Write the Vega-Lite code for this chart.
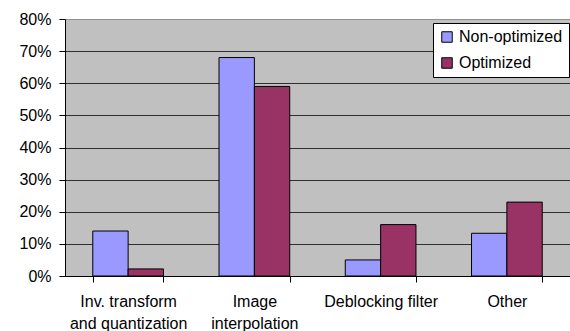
{
  "$schema": "https://vega.github.io/schema/vega-lite/v6.json",
  "width": 505,
  "height": 257,
  "autosize": {"type": "none"},
  "padding": {"left": 65, "top": 19, "right": 0, "bottom": 55},
  "background": "white",
  "data": {
    "values": [
      {"category": "Inv. transform and quantization", "series": "Non-optimized", "value": 0.14},
      {"category": "Inv. transform and quantization", "series": "Optimized", "value": 0.022},
      {"category": "Image interpolation", "series": "Non-optimized", "value": 0.68},
      {"category": "Image interpolation", "series": "Optimized", "value": 0.59},
      {"category": "Deblocking filter", "series": "Non-optimized", "value": 0.05},
      {"category": "Deblocking filter", "series": "Optimized", "value": 0.16},
      {"category": "Other", "series": "Non-optimized", "value": 0.133},
      {"category": "Other", "series": "Optimized", "value": 0.23}
    ]
  },
  "mark": {"type": "bar", "stroke": "black", "strokeWidth": 1},
  "encoding": {
    "x": {
      "field": "category",
      "type": "nominal",
      "sort": null,
      "scale": {"paddingInner": 0.44, "paddingOuter": 0.22},
      "axis": {
        "title": null,
        "labelAngle": 0,
        "tickBand": "extent",
        "tickSize": 6,
        "tickColor": "black",
        "domainColor": "black",
        "labelColor": "black",
        "labelFont": "Liberation Sans",
        "labelFontSize": 16,
        "labelPadding": 11,
        "labelLineHeight": 22,
        "labelBaseline": "top",
        "labelExpr": "datum.value == 'Inv. transform and quantization' ? ['Inv. transform', 'and quantization'] : datum.value == 'Image interpolation' ? ['Image', 'interpolation'] : datum.value"
      }
    },
    "xOffset": {"field": "series", "type": "nominal", "scale": {"paddingInner": 0, "paddingOuter": 0}},
    "y": {
      "field": "value",
      "type": "quantitative",
      "scale": {"domain": [0, 0.8], "nice": false},
      "axis": {
        "title": null,
        "values": [0, 0.1, 0.2, 0.3, 0.4, 0.5, 0.6, 0.7, 0.8],
        "format": ".0%",
        "grid": true,
        "gridColor": {"condition": {"test": "datum.value > 0.79", "value": "#909090"}, "value": "#303030"},
        "gridWidth": 1,
        "tickSize": 6,
        "tickColor": "black",
        "domainColor": "black",
        "labelColor": "black",
        "labelFont": "Liberation Sans",
        "labelFontSize": 16,
        "labelPadding": 8
      }
    },
    "color": {
      "field": "series",
      "type": "nominal",
      "scale": {"domain": ["Non-optimized", "Optimized"], "range": ["#9999FF", "#993366"]},
      "legend": {
        "title": null,
        "orient": "none",
        "legendX": 368,
        "legendY": 4,
        "fillColor": "white",
        "strokeColor": "black",
        "padding": 6,
        "rowPadding": 10,
        "symbolType": "square",
        "symbolSize": 110,
        "symbolStrokeColor": "black",
        "symbolStrokeWidth": 1,
        "symbolOpacity": 1,
        "labelFont": "Liberation Sans",
        "labelFontSize": 16,
        "labelColor": "black",
        "labelOffset": 4
      }
    }
  },
  "config": {
    "view": {"fill": "#C0C0C0", "stroke": "#909090"}
  }
}
